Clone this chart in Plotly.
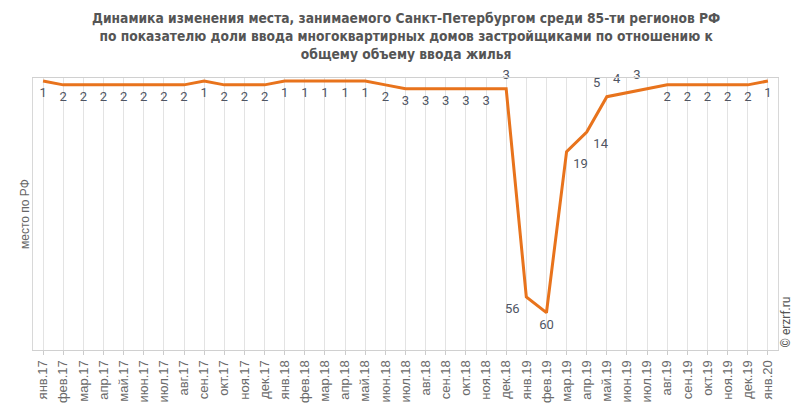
import plotly.graph_objects as go

months = ["янв.17","фев.17","мар.17","апр.17","май.17","июн.17","июл.17","авг.17","сен.17","окт.17","ноя.17","дек.17",
          "янв.18","фев.18","мар.18","апр.18","май.18","июн.18","июл.18","авг.18","сен.18","окт.18","ноя.18","дек.18",
          "янв.19","фев.19","мар.19","апр.19","май.19","июн.19","июл.19","авг.19","сен.19","окт.19","ноя.19","дек.19",
          "янв.20"]
ranks = [1,2,2,2,2,2,2,2,1,2,2,2,
         1,1,1,1,1,2,3,3,3,3,3,3,
         56,60,19,14,5,4,3,2,2,2,2,2,
         1]

title_lines = ["Динамика изменения места, занимаемого Санкт-Петербургом среди 85-ти регионов РФ",
               "по показателю доли ввода многоквартирных домов застройщиками по отношению к",
               "общему объему ввода жилья"]

special_pos = {23: "top center", 24: "bottom left", 25: "bottom center", 26: "bottom right",
               27: "bottom right", 28: "top left", 29: "top left", 30: "top left"}
positions = [special_pos.get(i, "bottom center") for i in range(len(ranks))]

fig = go.Figure()
fig.add_trace(go.Scatter(
    x=list(range(len(months))), y=ranks, mode="lines+markers+text",
    line=dict(color="#E8731C", width=3),
    marker=dict(size=9, opacity=0),
    text=[str(v) for v in ranks], textposition=positions,
    textfont=dict(family="Roboto, sans-serif", size=13, color="#4f5563"),
    cliponaxis=False, hoverinfo="skip"))

fig.update_layout(
    width=793, height=415,
    margin=dict(l=33, r=15, t=78, b=59),
    paper_bgcolor="white", plot_bgcolor="white",
    showlegend=False,
    xaxis=dict(
        tickmode="array", tickvals=list(range(len(months))), ticktext=months,
        range=[-0.5, len(months) - 0.5], tickangle=-90,
        tickfont=dict(family="Liberation Sans, Arial, sans-serif", size=13, color="#6a6a6a"),
        showgrid=True, gridcolor="#e3e3e3", gridwidth=1,
        showline=True, linecolor="#d0d0d0", mirror=True,
        ticks="outside", ticklen=4, tickcolor="#cccccc", zeroline=False),
    yaxis=dict(
        range=[69.5, 0.25], showticklabels=False, showgrid=False, zeroline=False,
        showline=True, linecolor="#d8d8d8", mirror=True),
    annotations=[
        dict(text="<br>".join(title_lines), xref="paper", yref="paper", x=0.5, y=1.153,
             xanchor="center", yanchor="middle", showarrow=False, align="center",
             font=dict(family="Liberation Sans Narrow, DejaVu Sans Condensed, Roboto, sans-serif",
                       size=13.7, color="#555555", weight="bold")),
        dict(text="место по РФ", xref="paper", yref="paper", x=0, y=0.5, xshift=-8,
             xanchor="center", yanchor="middle", textangle=-90, showarrow=False,
             font=dict(family="Liberation Sans, Arial, sans-serif", size=12, color="#666666")),
        dict(text="© erzrf.ru", xref="paper", yref="paper", x=1.0, y=0.0,
             xanchor="left", yanchor="bottom", xshift=-2, textangle=-90, showarrow=False,
             font=dict(family="Roboto, sans-serif", size=12, color="#555555")),
    ]
)

fig.write_html("out.html")
